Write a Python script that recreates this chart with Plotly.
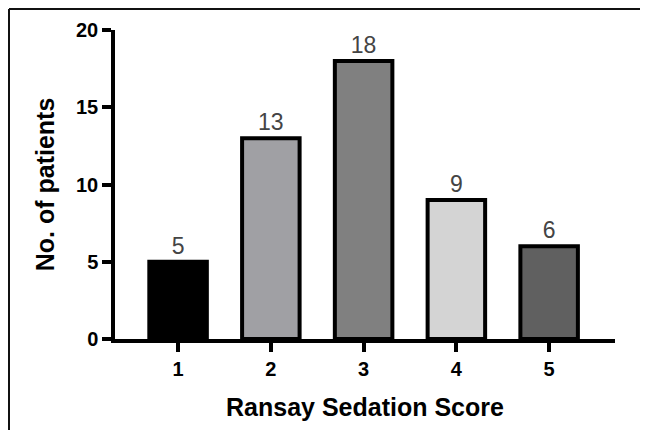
import plotly.graph_objects as go

scores = [1, 2, 3, 4, 5]
tick_labels = ["1", "2", "3", "4", "5"]
patients = [5, 13, 18, 9, 6]
bar_colors = ["#000000", "#a0a0a4", "#808080", "#d4d4d4", "#606060"]
y_ticks = [0, 5, 10, 15, 20]

FONT = "Liberation Sans, Arial, sans-serif"

fig = go.Figure(
    go.Bar(
        x=scores,
        y=patients,
        width=0.62,
        marker=dict(color=bar_colors, line=dict(color="black", width=4)),
        text=[str(v) for v in patients],
        textposition="outside",
        textfont=dict(family=FONT, size=23, color="#444444"),
        cliponaxis=False,
        hoverinfo="skip",
    )
)

# page body adds an 8px offset; margins compensate so plot area sits at x 115-615, y 30-339
fig.update_layout(
    width=648,
    height=430,
    margin=dict(l=107, r=41, t=22, b=99),
    paper_bgcolor="white",
    plot_bgcolor="white",
    showlegend=False,
    font=dict(family=FONT, color="black"),
    shapes=[
        dict(type="line", xref="paper", yref="paper",
             x0=-0.212, x1=1.1, y0=1.068, y1=1.068,
             line=dict(color="#111111", width=2)),
        dict(type="line", xref="paper", yref="paper",
             x0=-0.212, x1=-0.212, y0=1.068, y1=-0.35,
             line=dict(color="#111111", width=2)),
    ],
)

fig.update_xaxes(
    range=[0.32, 5.71],
    tickvals=scores,
    ticktext=tick_labels,
    showline=True,
    linecolor="black",
    linewidth=3.5,
    ticks="outside",
    ticklen=9,
    tickwidth=3.5,
    tickcolor="black",
    showgrid=False,
    zeroline=False,
    tickfont=dict(family=FONT, size=20, color="black", weight="bold"),
    title=dict(text="Ransay Sedation Score",
               font=dict(family=FONT, size=25, color="black", weight="bold"),
               standoff=21),
)

fig.update_yaxes(
    range=[0, 20],
    tickvals=y_ticks,
    showline=True,
    linecolor="black",
    linewidth=3.5,
    ticks="outside",
    ticklen=9,
    tickwidth=3.5,
    tickcolor="black",
    showgrid=False,
    zeroline=False,
    tickfont=dict(family=FONT, size=20, color="black", weight="bold"),
    title=dict(text="No. of patients",
               font=dict(family=FONT, size=25, color="black", weight="bold"),
               standoff=15),
)

fig.write_html("out.html")
